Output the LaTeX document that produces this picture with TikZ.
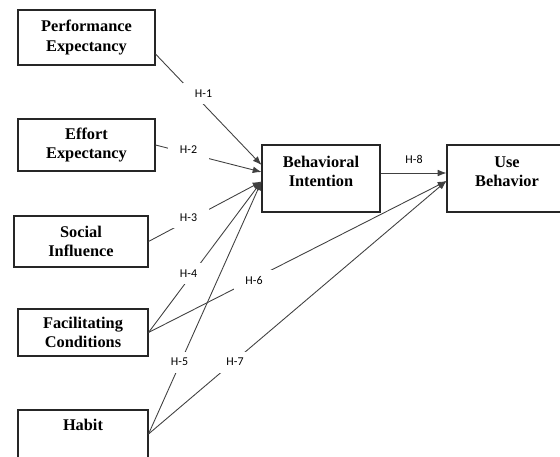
\documentclass[tikz,border=0pt]{standalone}
\usepackage{fontspec}
\setmainfont{Liberation Serif}
\newfontfamily\hypfont{Carlito}
\usepackage{xcolor}
\usepackage{tikz}
\usetikzlibrary{calc,arrows.meta}

\begin{document}
\begin{tikzpicture}[
  x=0.02cm, y=-0.02cm,
  construct/.style={draw=black!85, line width=0.6pt, align=center, inner sep=0pt,
    font=\fontsize{9.3}{11}\selectfont\bfseries},
  constructtext/.style={align=center, inner sep=0pt, font=\fontsize{9.3}{11}\selectfont\bfseries},
  link/.style={color=black!75, line width=0.5pt, -{Latex[length=5pt,width=3.8pt]}},
  hyp/.style={fill=white, minimum width=0.82cm, minimum height=0.42cm, inner sep=0pt,
    font=\hypfont\fontsize{6.8}{8}\selectfont},
]
  \clip (0,0) rectangle (560,456);

  % constructs
  \node[construct, minimum width=2.74cm, minimum height=1.10cm] (pe) at (86.5,37.5) {Performance\\Expectancy};
  \node[construct, minimum width=2.74cm, minimum height=1.04cm] (ee) at (86.5,145) {Effort\\Expectancy};
  \node[construct, minimum width=2.68cm, minimum height=1.02cm] (si) at (81,241.5) {Social\\Influence};
  \node[construct, minimum width=2.60cm, minimum height=0.94cm] (fc) at (83,332.5) {Facilitating\\Conditions};
  \node[construct, minimum width=2.60cm, minimum height=0.96cm] (hb) at (83,434) {};
  \node[constructtext] (hb-text) at (83,425) {Habit};
  \node[construct, minimum width=2.36cm, minimum height=1.34cm] (bi) at (321,178.5) {};
  \node[constructtext] (bi-text) at (321,171.5) {Behavioral\\Intention};
  \node[construct, minimum width=2.40cm, minimum height=1.34cm] (ub) at (507,178.5) {};
  \node[constructtext] (ub-text) at (507,172) {Use\\Behavior};

  % arrow ends
  \coordinate (pe-out) at ($(pe.east)+(0,16.5)$);
  \coordinate (bi-in1) at ($(bi.west)+(0,-13.5)$);
  \coordinate (bi-in2) at ($(bi.west)+(0,-6.5)$);
  \coordinate (bi-in3) at ($(bi.west)+(0,3)$);
  \coordinate (bi-out) at ($(bi.east)+(0,-5.5)$);
  \coordinate (ub-in1) at ($(ub.west)+(0,-5.5)$);
  \coordinate (ub-in2) at ($(ub.west)+(0,2.5)$);

  % hypotheses
  \draw[link] (pe-out) -- (bi-in1);
  \draw[link] (ee.east) -- (bi-in2);
  \draw[link] (si.east) -- (bi-in3);
  \draw[link] (fc.east) -- (bi-in3);
  \draw[link] (hb.east) -- (bi-in3);
  \draw[link] (fc.east) -- (ub-in2);
  \draw[link] (hb.east) -- (ub-in2);
  \draw[link] (bi-out) -- (ub-in1);

  \node[hyp] (h1) at (203.5,93.5) {H-1};
  \node[hyp] (h2) at (188.5,150) {H-2};
  \node[hyp] (h3) at (188.5,217.5) {H-3};
  \node[hyp] (h4) at (188.5,273.5) {H-4};
  \node[hyp] (h5) at (179.5,362) {H-5};
  \node[hyp] (h6) at (254,280.5) {H-6};
  \node[hyp] (h7) at (235,362) {H-7};
  \node[hyp] (h8) at (414,159) {H-8};
\end{tikzpicture}
\end{document}
